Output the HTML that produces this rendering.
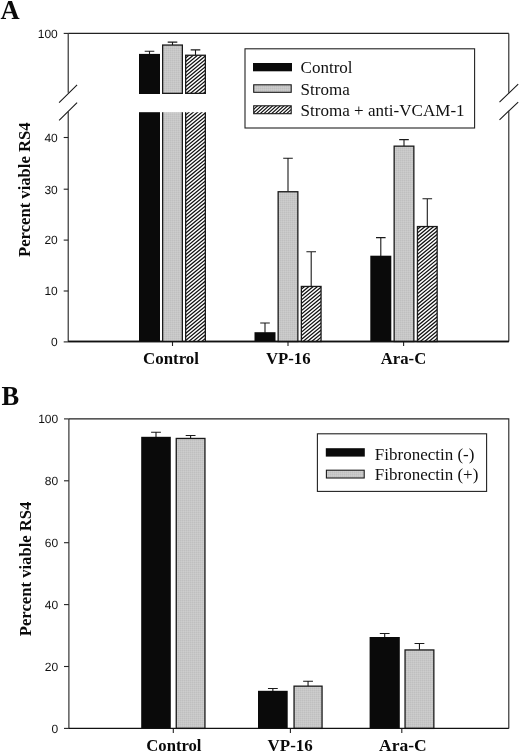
<!DOCTYPE html>
<html><head><meta charset="utf-8"><title>Figure</title>
<style>
html,body{margin:0;padding:0;background:#fff;}
body{width:520px;height:752px;overflow:hidden;}
svg{display:block;filter:grayscale(1);}
.s{font-family:"Liberation Sans",sans-serif;font-size:12px;fill:#111;text-rendering:geometricPrecision;}
.b{font-family:"Liberation Serif",serif;font-weight:bold;font-size:17px;fill:#0a0a0a;}
.r{font-family:"Liberation Serif",serif;font-size:17px;fill:#111;}
.p{font-family:"Liberation Serif",serif;font-weight:bold;font-size:26.5px;fill:#0a0a0a;}
</style></head><body>
<svg width="520" height="752" viewBox="0 0 520 752">
<defs>
<pattern id="stip" width="2" height="2" patternUnits="userSpaceOnUse">
<rect width="2" height="2" fill="#c7c7c7"/><rect width="1" height="1" fill="#bfbfbf"/><rect x="1" y="1" width="1" height="1" fill="#cdcdcd"/>
</pattern>
</defs>
<rect width="520" height="752" fill="#fff"/>

<text class="p" x="0.6" y="18.8">A</text>
<path d="M68.2 33.4H508.8" stroke="#222" stroke-width="1.1" fill="none"/>
<path d="M68.2 341.5H508.8" stroke="#111" stroke-width="1.4" fill="none"/>
<path d="M68.2 33.4V92.8M68.2 111.8V341.5M508.8 33.4V92.7M508.8 111.2V341.5" stroke="#222" stroke-width="1.1" fill="none"/>
<path d="M59.1 102.6L77.1 84.8M59.1 120.4L77.1 102.7M499.5 102.2L518.2 84.1M499.5 119.8L518.2 102.1" stroke="#1a1a1a" stroke-width="1.1" fill="none"/>
<path d="M63.7 341.9H68.2" stroke="#222" stroke-width="1.1"/>
<text class="s" x="57.8" y="346.2" text-anchor="end">0</text>
<path d="M63.7 291.0H68.2" stroke="#222" stroke-width="1.1"/>
<text class="s" x="57.8" y="295.3" text-anchor="end">10</text>
<path d="M63.7 240.1H68.2" stroke="#222" stroke-width="1.1"/>
<text class="s" x="57.8" y="244.4" text-anchor="end">20</text>
<path d="M63.7 189.2H68.2" stroke="#222" stroke-width="1.1"/>
<text class="s" x="57.8" y="193.5" text-anchor="end">30</text>
<path d="M63.7 137.5H68.2" stroke="#222" stroke-width="1.1"/>
<text class="s" x="57.8" y="141.8" text-anchor="end">40</text>
<path d="M63.7 33.4H68.2" stroke="#222" stroke-width="1.1"/>
<text class="s" x="57.8" y="37.7" text-anchor="end">100</text>
<text class="b" transform="translate(29.8 257) rotate(-90)" textLength="134.6" lengthAdjust="spacingAndGlyphs">Percent viable RS4</text>
<path d="M172.5 341.5V346" stroke="#222" stroke-width="1.1"/>
<path d="M288 341.5V346" stroke="#222" stroke-width="1.1"/>
<path d="M403.6 341.5V346" stroke="#222" stroke-width="1.1"/>
<text class="b" x="143.0" y="363.8" textLength="56.0" lengthAdjust="spacingAndGlyphs">Control</text>
<text class="b" x="266" y="363.8" textLength="44.6" lengthAdjust="spacingAndGlyphs">VP-16</text>
<text class="b" x="380.8" y="363.8" textLength="45.4" lengthAdjust="spacingAndGlyphs">Ara-C</text>
<path d="M149.5 54.4V51.3M144.7 51.3H154.3" stroke="#1a1a1a" stroke-width="1.1" fill="none"/>
<rect x="139" y="53.9" width="21" height="40.1" fill="#0a0a0a"/>
<rect x="139" y="112.2" width="21" height="229.3" fill="#0a0a0a"/>
<path d="M172.5 44.9V42.1M167.7 42.1H177.3" stroke="#1a1a1a" stroke-width="1.1" fill="none"/>
<rect x="162.65" y="45.05" width="19.7" height="48.3" fill="url(#stip)" stroke="#1a1a1a" stroke-width="1.3"/>
<rect x="162.65" y="112.2" width="19.7" height="229.3" fill="url(#stip)"/>
<path d="M162.65 112.2V341.5M182.35 112.2V341.5" stroke="#1a1a1a" stroke-width="1.3"/>
<path d="M195.5 55.1V49.9M190.7 49.9H200.3" stroke="#1a1a1a" stroke-width="1.1" fill="none"/>
<clipPath id="c1"><rect x="185.65" y="55.25" width="19.7" height="38.1"/></clipPath><rect x="185.65" y="55.25" width="19.7" height="38.1" fill="#fff"/><path clip-path="url(#c1)" d="M184.65 55.25L206.35 37.24M184.65 58.83L206.35 40.82M184.65 62.41L206.35 44.4M184.65 65.99L206.35 47.98M184.65 69.57L206.35 51.56M184.65 73.15L206.35 55.14M184.65 76.73L206.35 58.72M184.65 80.31L206.35 62.3M184.65 83.89L206.35 65.88M184.65 87.47L206.35 69.46M184.65 91.05L206.35 73.04M184.65 94.63L206.35 76.62M184.65 98.21L206.35 80.2M184.65 101.79L206.35 83.78M184.65 105.37L206.35 87.36M184.65 108.95L206.35 90.94M184.65 112.53L206.35 94.52" stroke="#111" stroke-width="1.25" fill="none"/>
<rect x="185.65" y="55.25" width="19.7" height="38.1" fill="none" stroke="#1a1a1a" stroke-width="1.3"/>
<clipPath id="c2"><rect x="185.65" y="112.2" width="19.7" height="229.3"/></clipPath><rect x="185.65" y="112.2" width="19.7" height="229.3" fill="#fff"/><path clip-path="url(#c2)" d="M184.65 112.2L206.35 94.19M184.65 115.78L206.35 97.77M184.65 119.36L206.35 101.35M184.65 122.94L206.35 104.93M184.65 126.52L206.35 108.51M184.65 130.1L206.35 112.09M184.65 133.68L206.35 115.67M184.65 137.26L206.35 119.25M184.65 140.84L206.35 122.83M184.65 144.42L206.35 126.41M184.65 148.0L206.35 129.99M184.65 151.58L206.35 133.57M184.65 155.16L206.35 137.15M184.65 158.74L206.35 140.73M184.65 162.32L206.35 144.31M184.65 165.9L206.35 147.89M184.65 169.48L206.35 151.47M184.65 173.06L206.35 155.05M184.65 176.64L206.35 158.63M184.65 180.22L206.35 162.21M184.65 183.8L206.35 165.79M184.65 187.38L206.35 169.37M184.65 190.96L206.35 172.95M184.65 194.54L206.35 176.53M184.65 198.12L206.35 180.11M184.65 201.7L206.35 183.69M184.65 205.28L206.35 187.27M184.65 208.86L206.35 190.85M184.65 212.44L206.35 194.43M184.65 216.02L206.35 198.01M184.65 219.6L206.35 201.59M184.65 223.18L206.35 205.17M184.65 226.76L206.35 208.75M184.65 230.34L206.35 212.33M184.65 233.92L206.35 215.91M184.65 237.5L206.35 219.49M184.65 241.08L206.35 223.07M184.65 244.66L206.35 226.65M184.65 248.24L206.35 230.23M184.65 251.82L206.35 233.81M184.65 255.4L206.35 237.39M184.65 258.98L206.35 240.97M184.65 262.56L206.35 244.55M184.65 266.14L206.35 248.13M184.65 269.72L206.35 251.71M184.65 273.3L206.35 255.29M184.65 276.88L206.35 258.87M184.65 280.46L206.35 262.45M184.65 284.04L206.35 266.03M184.65 287.62L206.35 269.61M184.65 291.2L206.35 273.19M184.65 294.78L206.35 276.77M184.65 298.36L206.35 280.35M184.65 301.94L206.35 283.93M184.65 305.52L206.35 287.51M184.65 309.1L206.35 291.09M184.65 312.68L206.35 294.67M184.65 316.26L206.35 298.25M184.65 319.84L206.35 301.83M184.65 323.42L206.35 305.41M184.65 327.0L206.35 308.99M184.65 330.58L206.35 312.57M184.65 334.16L206.35 316.15M184.65 337.74L206.35 319.73M184.65 341.32L206.35 323.31M184.65 344.9L206.35 326.89M184.65 348.48L206.35 330.47M184.65 352.06L206.35 334.05M184.65 355.64L206.35 337.63M184.65 359.22L206.35 341.21M184.65 362.8L206.35 344.79" stroke="#111" stroke-width="1.25" fill="none"/>
<path d="M185.65 112.2V341.5M205.35 112.2V341.5" stroke="#1a1a1a" stroke-width="1.3"/>
<path d="M265.0 332.7V323.0M260.2 323.0H269.8" stroke="#1a1a1a" stroke-width="1.1" fill="none"/>
<rect x="254.5" y="332.2" width="21" height="9.3" fill="#0a0a0a"/>
<path d="M288.0 191.6V158.2M283.2 158.2H292.8" stroke="#1a1a1a" stroke-width="1.1" fill="none"/>
<rect x="278.15" y="191.75" width="19.7" height="149.75" fill="url(#stip)" stroke="#1a1a1a" stroke-width="1.3"/>
<path d="M311.2 286.3V251.7M306.4 251.7H316.0" stroke="#1a1a1a" stroke-width="1.1" fill="none"/>
<clipPath id="c3"><rect x="301.35" y="286.45" width="19.7" height="55.05"/></clipPath><rect x="301.35" y="286.45" width="19.7" height="55.05" fill="#fff"/><path clip-path="url(#c3)" d="M300.35 286.45L322.05 268.44M300.35 290.03L322.05 272.02M300.35 293.61L322.05 275.6M300.35 297.19L322.05 279.18M300.35 300.77L322.05 282.76M300.35 304.35L322.05 286.34M300.35 307.93L322.05 289.92M300.35 311.51L322.05 293.5M300.35 315.09L322.05 297.08M300.35 318.67L322.05 300.66M300.35 322.25L322.05 304.24M300.35 325.83L322.05 307.82M300.35 329.41L322.05 311.4M300.35 332.99L322.05 314.98M300.35 336.57L322.05 318.56M300.35 340.15L322.05 322.14M300.35 343.73L322.05 325.72M300.35 347.31L322.05 329.3M300.35 350.89L322.05 332.88M300.35 354.47L322.05 336.46M300.35 358.05L322.05 340.04M300.35 361.63L322.05 343.62" stroke="#111" stroke-width="1.25" fill="none"/><rect x="301.35" y="286.45" width="19.7" height="55.05" fill="none" stroke="#1a1a1a" stroke-width="1.3"/>
<path d="M380.8 256.2V237.6M376.0 237.6H385.6" stroke="#1a1a1a" stroke-width="1.1" fill="none"/>
<rect x="370.3" y="255.7" width="21" height="85.8" fill="#0a0a0a"/>
<path d="M404.0 146.0V139.6M399.2 139.6H408.8" stroke="#1a1a1a" stroke-width="1.1" fill="none"/>
<rect x="394.15" y="146.15" width="19.7" height="195.35" fill="url(#stip)" stroke="#1a1a1a" stroke-width="1.3"/>
<path d="M427.3 226.4V198.7M422.5 198.7H432.1" stroke="#1a1a1a" stroke-width="1.1" fill="none"/>
<clipPath id="c4"><rect x="417.45" y="226.55" width="19.7" height="114.95"/></clipPath><rect x="417.45" y="226.55" width="19.7" height="114.95" fill="#fff"/><path clip-path="url(#c4)" d="M416.45 226.55L438.15 208.54M416.45 230.13L438.15 212.12M416.45 233.71L438.15 215.7M416.45 237.29L438.15 219.28M416.45 240.87L438.15 222.86M416.45 244.45L438.15 226.44M416.45 248.03L438.15 230.02M416.45 251.61L438.15 233.6M416.45 255.19L438.15 237.18M416.45 258.77L438.15 240.76M416.45 262.35L438.15 244.34M416.45 265.93L438.15 247.92M416.45 269.51L438.15 251.5M416.45 273.09L438.15 255.08M416.45 276.67L438.15 258.66M416.45 280.25L438.15 262.24M416.45 283.83L438.15 265.82M416.45 287.41L438.15 269.4M416.45 290.99L438.15 272.98M416.45 294.57L438.15 276.56M416.45 298.15L438.15 280.14M416.45 301.73L438.15 283.72M416.45 305.31L438.15 287.3M416.45 308.89L438.15 290.88M416.45 312.47L438.15 294.46M416.45 316.05L438.15 298.04M416.45 319.63L438.15 301.62M416.45 323.21L438.15 305.2M416.45 326.79L438.15 308.78M416.45 330.37L438.15 312.36M416.45 333.95L438.15 315.94M416.45 337.53L438.15 319.52M416.45 341.11L438.15 323.1M416.45 344.69L438.15 326.68M416.45 348.27L438.15 330.26M416.45 351.85L438.15 333.84M416.45 355.43L438.15 337.42M416.45 359.01L438.15 341.0M416.45 362.59L438.15 344.58" stroke="#111" stroke-width="1.25" fill="none"/><rect x="417.45" y="226.55" width="19.7" height="114.95" fill="none" stroke="#1a1a1a" stroke-width="1.3"/>
<path d="M68.2 341.5H508.8" stroke="#111" stroke-width="1.4" fill="none"/>
<rect x="245" y="48.8" width="229.6" height="79.2" fill="#fff" stroke="#222" stroke-width="1.1"/>
<rect x="253" y="63" width="39" height="8.3" fill="#0a0a0a"/>
<rect x="253.7" y="84.8" width="37.5" height="7.5" fill="url(#stip)" stroke="#1a1a1a" stroke-width="1.1"/>
<clipPath id="c5"><rect x="253.7" y="105.8" width="37.5" height="7.9"/></clipPath><rect x="253.7" y="105.8" width="37.5" height="7.9" fill="#fff"/><path clip-path="url(#c5)" d="M252.7 106.8L292.2 71.25M252.7 110.2L292.2 74.65M252.7 113.6L292.2 78.05M252.7 117.0L292.2 81.45M252.7 120.4L292.2 84.85M252.7 123.8L292.2 88.25M252.7 127.2L292.2 91.65M252.7 130.6L292.2 95.05M252.7 134.0L292.2 98.45M252.7 137.4L292.2 101.85M252.7 140.8L292.2 105.25M252.7 144.2L292.2 108.65M252.7 147.6L292.2 112.05M252.7 151.0L292.2 115.45" stroke="#111" stroke-width="1.15" fill="none"/>
<rect x="253.7" y="105.8" width="37.5" height="7.9" fill="none" stroke="#1a1a1a" stroke-width="1.1"/>
<text class="r" x="300.6" y="73.3">Control</text>
<text class="r" x="300.6" y="94.5">Stroma</text>
<text class="r" x="300.6" y="115.8" textLength="164" lengthAdjust="spacingAndGlyphs">Stroma + anti-VCAM-1</text>
<text class="p" x="1.4" y="405">B</text>
<path d="M68.9 418.9H508.8V728.4M68.9 418.9V728.4" stroke="#222" stroke-width="1.1" fill="none"/>
<path d="M64 728.4H68.9" stroke="#222" stroke-width="1.1"/>
<text class="s" x="58.2" y="732.7" text-anchor="end">0</text>
<path d="M64 666.5H68.9" stroke="#222" stroke-width="1.1"/>
<text class="s" x="58.2" y="670.8" text-anchor="end">20</text>
<path d="M64 604.6H68.9" stroke="#222" stroke-width="1.1"/>
<text class="s" x="58.2" y="608.9" text-anchor="end">40</text>
<path d="M64 542.7H68.9" stroke="#222" stroke-width="1.1"/>
<text class="s" x="58.2" y="547.0" text-anchor="end">60</text>
<path d="M64 480.8H68.9" stroke="#222" stroke-width="1.1"/>
<text class="s" x="58.2" y="485.1" text-anchor="end">80</text>
<path d="M64 418.9H68.9" stroke="#222" stroke-width="1.1"/>
<text class="s" x="58.2" y="423.2" text-anchor="end">100</text>
<text class="b" transform="translate(31 636.2) rotate(-90)" textLength="134.6" lengthAdjust="spacingAndGlyphs">Percent viable RS4</text>
<path d="M173.3 728.4V733" stroke="#222" stroke-width="1.1"/>
<path d="M290.4 728.4V733" stroke="#222" stroke-width="1.1"/>
<path d="M401.8 728.4V733" stroke="#222" stroke-width="1.1"/>
<text class="b" x="146.3" y="751.2" textLength="55.2" lengthAdjust="spacingAndGlyphs">Control</text>
<text class="b" x="267.6" y="751.2" textLength="45.2" lengthAdjust="spacingAndGlyphs">VP-16</text>
<text class="b" x="379.0" y="751.2" textLength="47.6" lengthAdjust="spacingAndGlyphs">Ara-C</text>
<path d="M156.0 437.3V432.2M151.1 432.2H160.9" stroke="#1a1a1a" stroke-width="1.1" fill="none"/>
<rect x="141.2" y="436.8" width="29.6" height="291.6" fill="#0a0a0a"/>
<path d="M190.6 438.3V435.5M185.7 435.5H195.5" stroke="#1a1a1a" stroke-width="1.1" fill="none"/>
<rect x="176.25" y="438.45" width="28.7" height="289.95" fill="url(#stip)" stroke="#1a1a1a" stroke-width="1.3"/>
<path d="M272.85 691.3V688.5M267.95 688.5H277.75" stroke="#1a1a1a" stroke-width="1.1" fill="none"/>
<rect x="258.0" y="690.8" width="29.7" height="37.6" fill="#0a0a0a"/>
<path d="M308.05 686.0V681.2M303.15 681.2H312.95" stroke="#1a1a1a" stroke-width="1.1" fill="none"/>
<rect x="294.05" y="686.15" width="28.0" height="42.25" fill="url(#stip)" stroke="#1a1a1a" stroke-width="1.3"/>
<path d="M384.7 637.5V633.5M379.8 633.5H389.6" stroke="#1a1a1a" stroke-width="1.1" fill="none"/>
<rect x="369.6" y="637.0" width="30.2" height="91.4" fill="#0a0a0a"/>
<path d="M419.45 649.8V643.5M414.55 643.5H424.35" stroke="#1a1a1a" stroke-width="1.1" fill="none"/>
<rect x="405.05" y="649.95" width="28.8" height="78.45" fill="url(#stip)" stroke="#1a1a1a" stroke-width="1.3"/>
<path d="M68.9 728.4H508.8" stroke="#111" stroke-width="1.4" fill="none"/>
<rect x="317.4" y="433.8" width="169.2" height="57.6" fill="#fff" stroke="#222" stroke-width="1.1"/>
<rect x="325.8" y="448.2" width="39" height="8.4" fill="#0a0a0a"/>
<rect x="326.4" y="470.2" width="37.8" height="7.8" fill="url(#stip)" stroke="#1a1a1a" stroke-width="1.1"/>
<text class="r" x="374.8" y="459.6">Fibronectin (-)</text>
<text class="r" x="374.8" y="480.3">Fibronectin (+)</text>
</svg></body></html>
